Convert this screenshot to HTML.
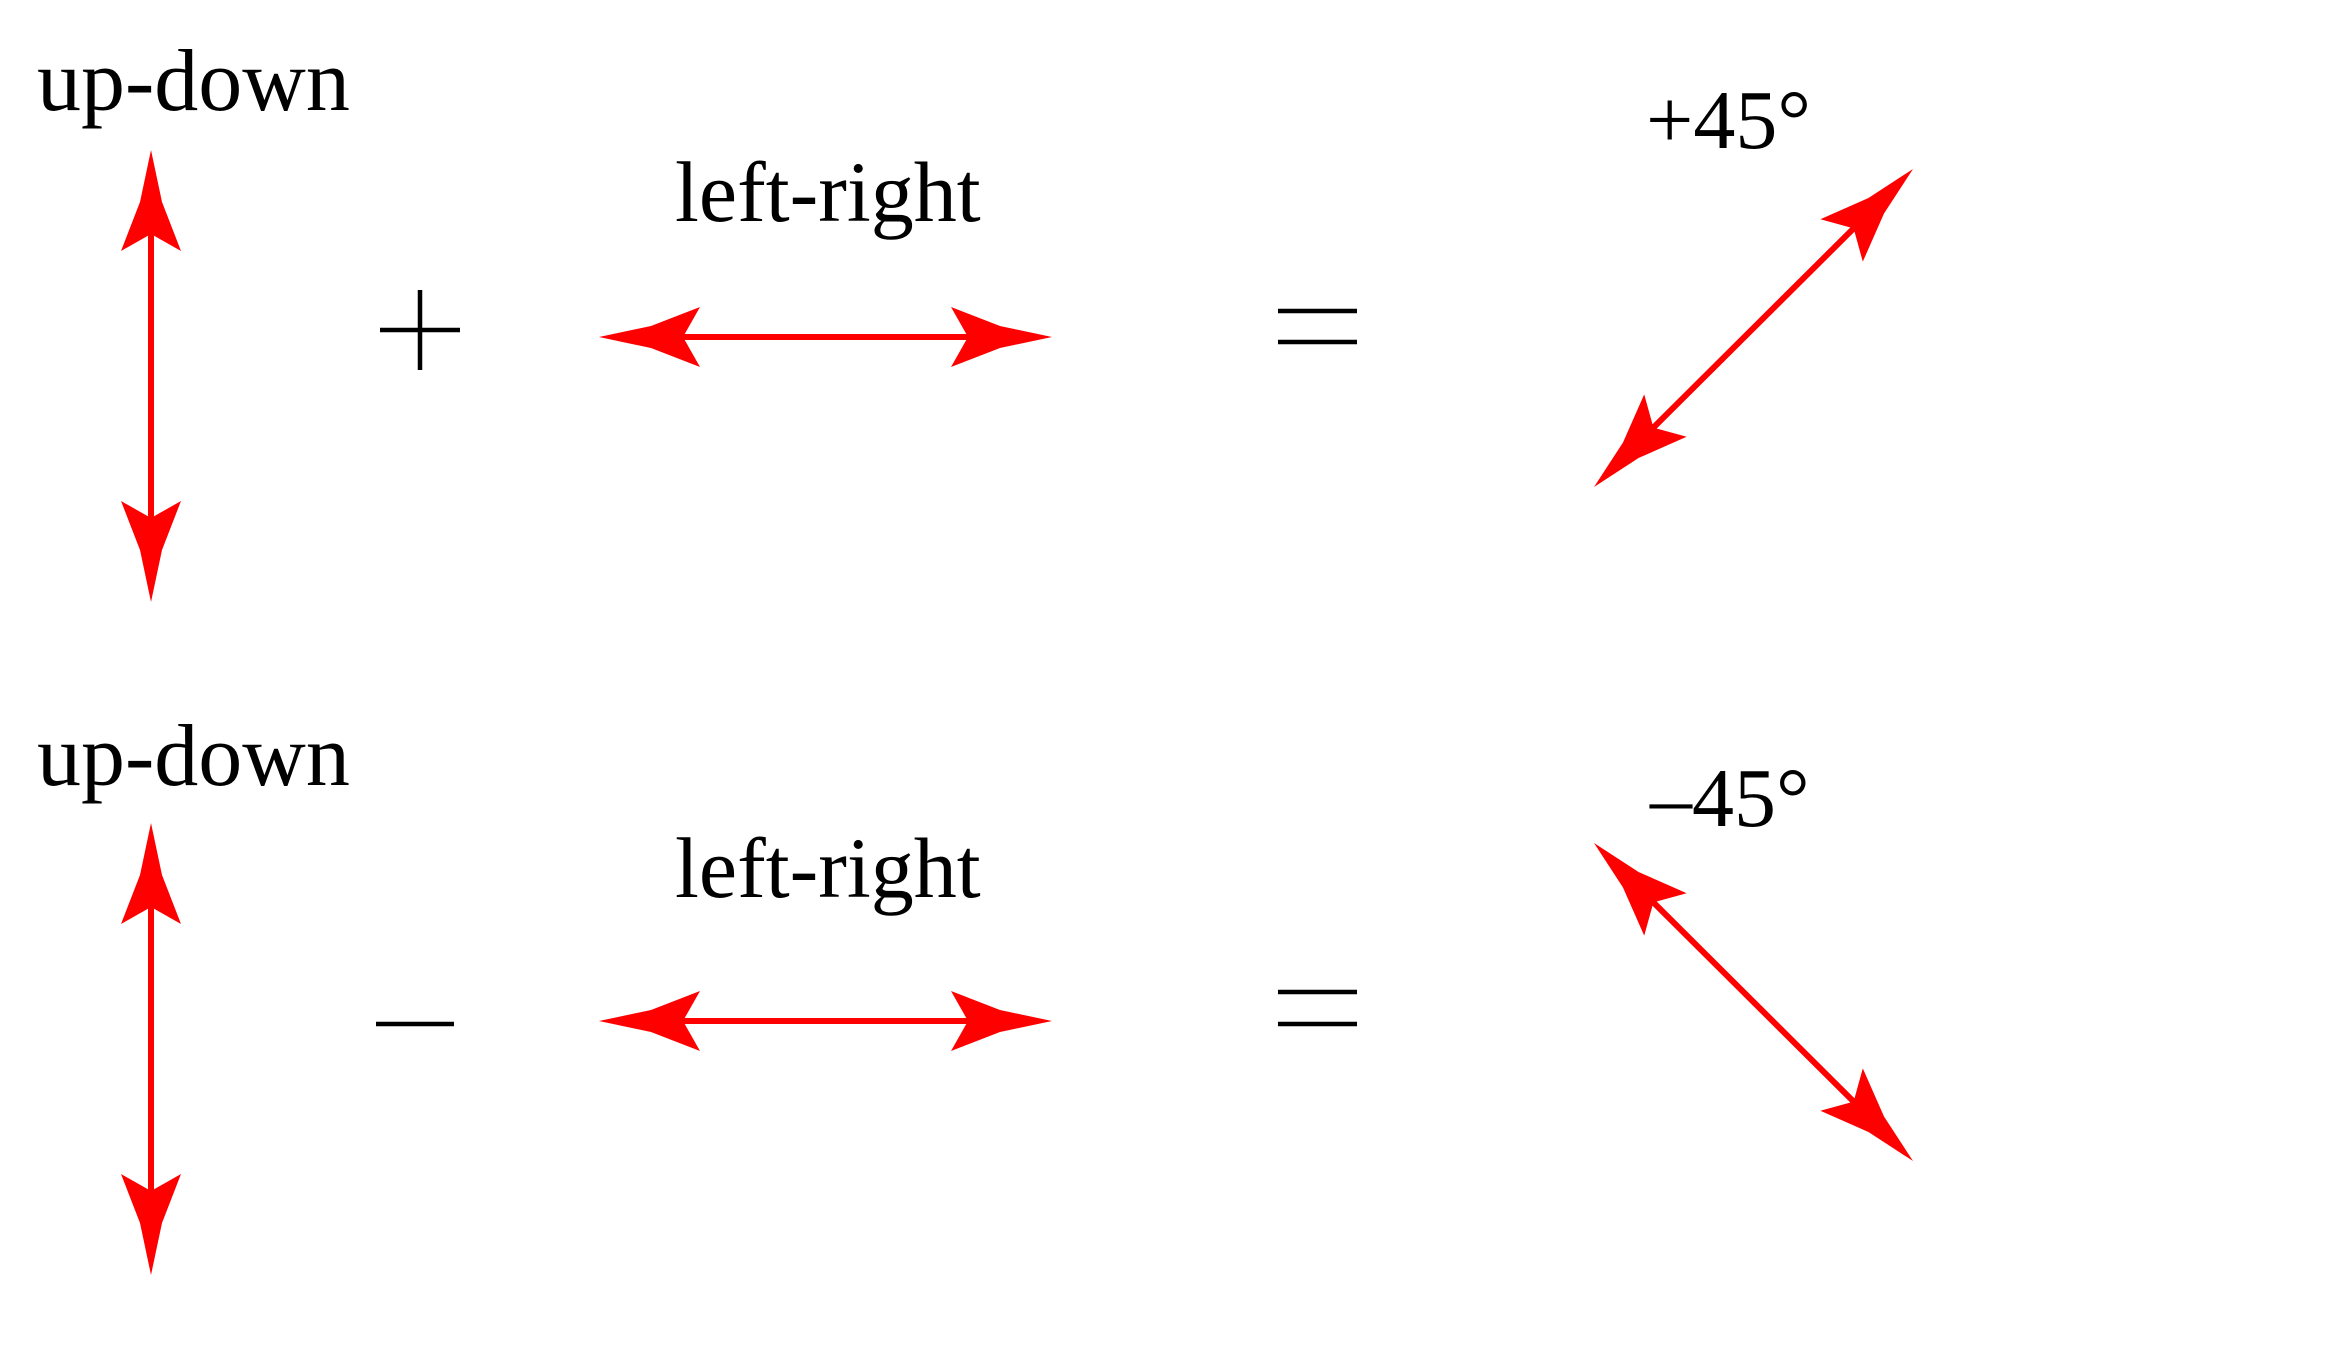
<!DOCTYPE html>
<html><head><meta charset="utf-8"><style>html,body{margin:0;padding:0;background:#fff}svg{display:block}</style></head>
<body>
<svg width="2325" height="1350" viewBox="0 0 2325 1350" xmlns="http://www.w3.org/2000/svg">
<defs>
<polygon id="h" points="0,0 -52,-11 -101,-30 -84,0 -101,30 -52,11" fill="#ff0000"/>
</defs>
<g font-family="Liberation Serif, serif" font-size="88" fill="#000">
<text x="37" y="110">up-down</text>
<text x="37" y="785">up-down</text>
<text x="675" y="221" font-size="86">left-right</text>
<text x="675" y="897" font-size="86">left-right</text>
<text x="1646" y="148" font-size="84">+45°</text>
<text x="1650" y="826" font-size="84">–45°</text>
</g>
<g stroke="#000" stroke-width="4.5">
<line x1="380" y1="330" x2="460" y2="330"/><line x1="420" y1="290" x2="420" y2="370"/>
<line x1="376" y1="1024" x2="454" y2="1024"/>
<line x1="1278" y1="311" x2="1357" y2="311"/><line x1="1278" y1="342" x2="1357" y2="342"/>
<line x1="1278" y1="992" x2="1357" y2="992"/><line x1="1278" y1="1024" x2="1357" y2="1024"/>
</g>
<g stroke="#ff0000" stroke-width="6">
<line x1="151" y1="220" x2="151" y2="532"/>
<line x1="151" y1="893" x2="151" y2="1205"/>
<line x1="669" y1="337" x2="982" y2="337"/>
<line x1="669" y1="1021" x2="982" y2="1021"/>
<line x1="1653" y1="428" x2="1854" y2="228"/>
<line x1="1653" y1="902" x2="1854" y2="1102"/>
</g>
<use href="#h" transform="translate(151,150) rotate(-90)"/>
<use href="#h" transform="translate(151,602) rotate(90)"/>
<use href="#h" transform="translate(151,823) rotate(-90)"/>
<use href="#h" transform="translate(151,1275) rotate(90)"/>
<use href="#h" transform="translate(599,337) rotate(180)"/>
<use href="#h" transform="translate(1052,337)"/>
<use href="#h" transform="translate(599,1021) rotate(180)"/>
<use href="#h" transform="translate(1052,1021)"/>
<use href="#h" transform="translate(1913,169) rotate(-45)"/>
<use href="#h" transform="translate(1594,487) rotate(135)"/>
<use href="#h" transform="translate(1594,843) rotate(-135)"/>
<use href="#h" transform="translate(1913,1161) rotate(45)"/>
</svg>
</body></html>
